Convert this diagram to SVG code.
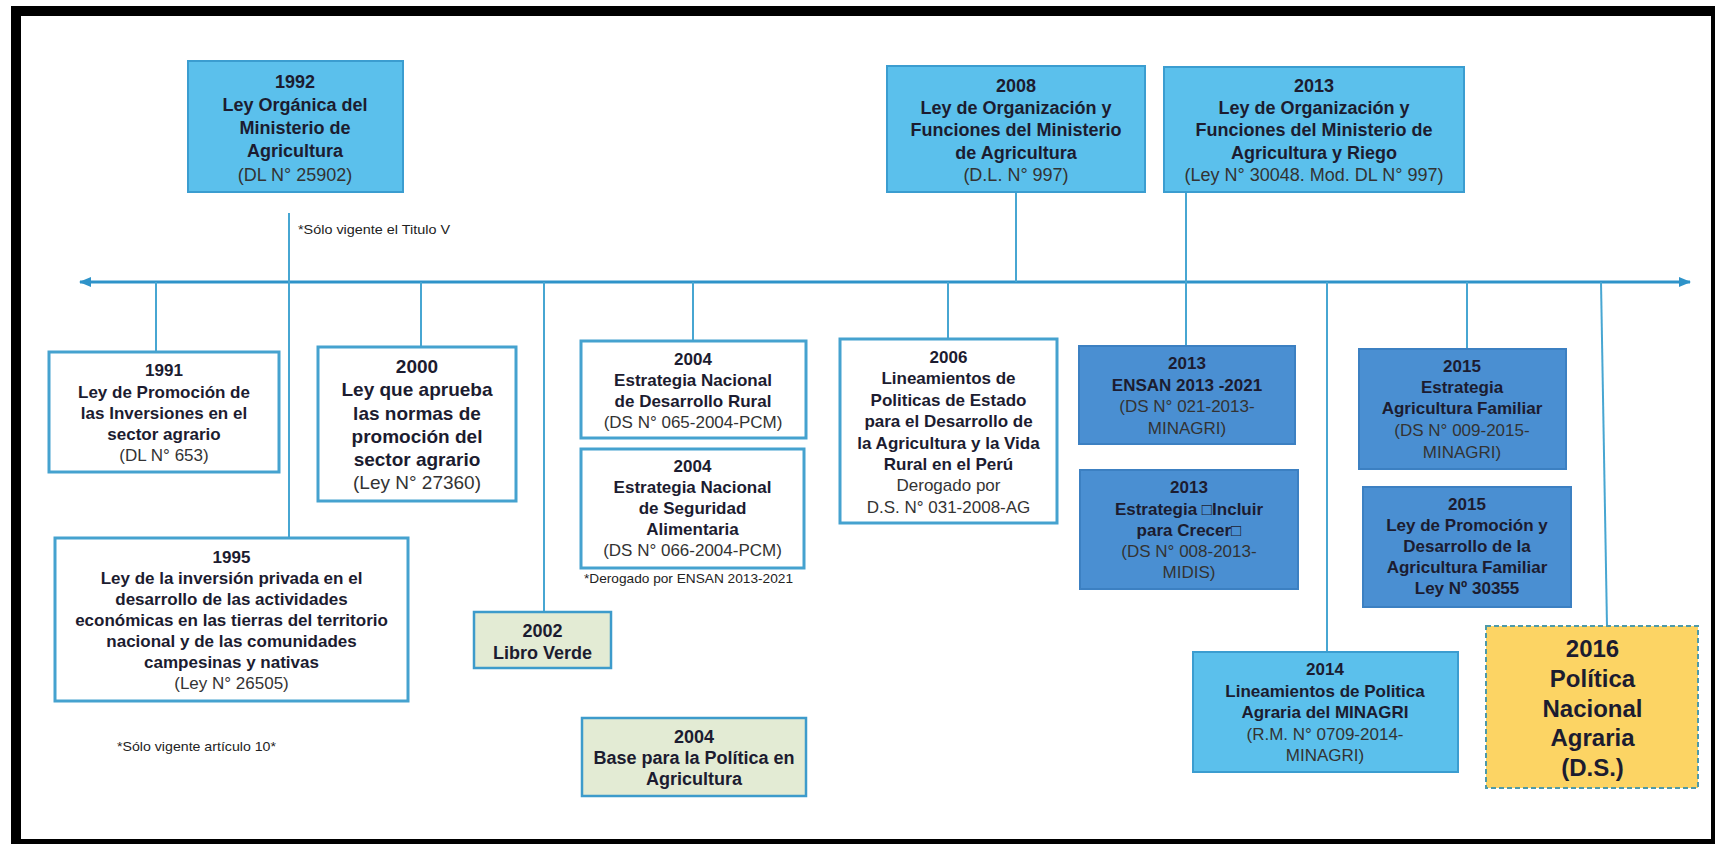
<svg xmlns="http://www.w3.org/2000/svg" width="1715" height="844" viewBox="0 0 1715 844">
<defs>
<style>
.b{font-family:'Liberation Sans',Arial,sans-serif;font-weight:bold;fill:#1c1c30;text-anchor:middle}
.n{font-family:'Liberation Sans',Arial,sans-serif;fill:#333;text-anchor:middle}
.note{font-family:'Liberation Sans',Arial,sans-serif;font-size:13.5px;fill:#222}
.lb{fill:#5BC0EC;stroke:#3B9DD0;stroke-width:2}
.db{fill:#4A8FD2;stroke:#3C80C2;stroke-width:2}
.wb{fill:#fff;stroke:#45A2CF;stroke-width:3}
.gb{fill:#E3EBD4;stroke:#3D9BCB;stroke-width:2.5}
.yb{fill:#FCD464;stroke:#4E9AA8;stroke-width:2;stroke-dasharray:5 3}
.c{stroke:#47A6D2;stroke-width:2;fill:none}
.f17{font-size:17px}.f18{font-size:18px}.f19{font-size:19px}.f24{font-size:24px}
</style>
<marker id="ah" viewBox="0 0 12 10" refX="11" refY="5" markerWidth="12" markerHeight="10" markerUnits="userSpaceOnUse" orient="auto-start-reverse">
<path d="M0,0 L12,5 L0,10 Z" fill="#2E93C9"/>
</marker>
</defs>
<rect x="0" y="0" width="1715" height="844" fill="#fff"/>
<rect x="11" y="6" width="1704" height="838" fill="#000"/>
<rect x="21" y="16" width="1690" height="823" fill="#fff"/>

<g id="connectors">
<line x1="80" y1="282" x2="1690" y2="282" stroke="#2E93C9" stroke-width="3" marker-start="url(#ah)" marker-end="url(#ah)"/>
<line class="c" x1="156" y1="282" x2="156" y2="352"/>
<line class="c" x1="289" y1="213" x2="289" y2="538"/>
<line class="c" x1="421" y1="282" x2="421" y2="347"/>
<line class="c" x1="544" y1="282" x2="544" y2="612"/>
<line class="c" x1="693" y1="282" x2="693" y2="341"/>
<line class="c" x1="948" y1="282" x2="948" y2="339"/>
<line class="c" x1="1016" y1="192" x2="1016" y2="282"/>
<line class="c" x1="1186" y1="192" x2="1186" y2="346"/>
<line class="c" x1="1327" y1="282" x2="1327" y2="652"/>
<line class="c" x1="1467" y1="282" x2="1467" y2="349"/>
<line class="c" x1="1601" y1="282" x2="1607" y2="626"/>
</g>

<g id="n1992">
<rect class="lb" x="188" y="61" width="215" height="131"/>
<text class="b f18" x="295" y="87.5">1992</text>
<text class="b f18" x="295" y="110.5">Ley Orgánica del</text>
<text class="b f18" x="295" y="133.5">Ministerio de</text>
<text class="b f18" x="295" y="156.5">Agricultura</text>
<text class="n f18" x="295" y="180.5">(DL N° 25902)</text>
</g>
<g id="n2008">
<rect class="lb" x="887" y="66" width="258" height="126"/>
<text class="b f18" x="1016" y="91.5">2008</text>
<text class="b f18" x="1016" y="113.5">Ley de Organización y</text>
<text class="b f18" x="1016" y="135.5">Funciones del Ministerio</text>
<text class="b f18" x="1016" y="158.5">de Agricultura</text>
<text class="n f18" x="1016" y="180.5">(D.L. N° 997)</text>
</g>
<g id="n2013a">
<rect class="lb" x="1164" y="67" width="300" height="125"/>
<text class="b f18" x="1314" y="91.5">2013</text>
<text class="b f18" x="1314" y="113.5">Ley de Organización y</text>
<text class="b f18" x="1314" y="135.5">Funciones del Ministerio de</text>
<text class="b f18" x="1314" y="158.5">Agricultura y Riego</text>
<text class="n f18" x="1314" y="180.5">(Ley N° 30048. Mod. DL N° 997)</text>
</g>
<g id="note1">
<text class="note" x="298" y="234" textLength="152" lengthAdjust="spacingAndGlyphs">*Sólo vigente el Titulo V</text>
</g>

<g id="n1991">
<rect class="wb" x="49" y="352" width="230" height="120"/>
<text class="b f17" x="164" y="376">1991</text>
<text class="b f17" x="164" y="398">Ley de Promoción de</text>
<text class="b f17" x="164" y="419">las Inversiones en el</text>
<text class="b f17" x="164" y="440">sector agrario</text>
<text class="n f17" x="164" y="461">(DL N° 653)</text>
</g>
<g id="n2000">
<rect class="wb" x="318" y="347" width="198" height="154"/>
<text class="b f19" x="417" y="373">2000</text>
<text class="b f19" x="417" y="396">Ley que aprueba</text>
<text class="b f19" x="417" y="420">las normas de</text>
<text class="b f19" x="417" y="443">promoción del</text>
<text class="b f19" x="417" y="466">sector agrario</text>
<text class="n f19" x="417" y="489">(Ley N° 27360)</text>
</g>
<g id="n1995">
<rect class="wb" x="55" y="538" width="353" height="163"/>
<text class="b f17" x="231.5" y="563">1995</text>
<text class="b f17" x="231.5" y="584">Ley de la inversión privada en el</text>
<text class="b f17" x="231.5" y="605">desarrollo de las actividades</text>
<text class="b f17" x="231.5" y="626">económicas en las tierras del territorio</text>
<text class="b f17" x="231.5" y="647">nacional y de las comunidades</text>
<text class="b f17" x="231.5" y="668">campesinas y nativas</text>
<text class="n f17" x="231.5" y="689">(Ley N° 26505)</text>
</g>
<g id="note2">
<text class="note" x="117" y="751" textLength="159" lengthAdjust="spacingAndGlyphs">*Sólo vigente artículo 10*</text>
</g>
<g id="n2002">
<rect class="gb" x="474" y="612" width="137" height="56"/>
<text class="b f18" x="542.5" y="636.5">2002</text>
<text class="b f18" x="542.5" y="658.5">Libro Verde</text>
</g>
<g id="n2004a">
<rect class="wb" x="581" y="341" width="225" height="97"/>
<text class="b f17" x="693" y="365">2004</text>
<text class="b f17" x="693" y="386">Estrategia Nacional</text>
<text class="b f17" x="693" y="407">de Desarrollo Rural</text>
<text class="n f17" x="693" y="428">(DS N° 065-2004-PCM)</text>
</g>
<g id="n2004b">
<rect class="wb" x="581" y="449" width="223" height="119"/>
<text class="b f17" x="692.5" y="472">2004</text>
<text class="b f17" x="692.5" y="493">Estrategia Nacional</text>
<text class="b f17" x="692.5" y="514">de Seguridad</text>
<text class="b f17" x="692.5" y="535">Alimentaria</text>
<text class="n f17" x="692.5" y="556">(DS N° 066-2004-PCM)</text>
</g>
<g id="note3">
<text class="note" x="584" y="583" textLength="209" lengthAdjust="spacingAndGlyphs">*Derogado por ENSAN 2013-2021</text>
</g>
<g id="n2004c">
<rect class="gb" x="582" y="718" width="224" height="78"/>
<text class="b f18" x="694" y="742.5">2004</text>
<text class="b f18" x="694" y="763.5">Base para la Política en</text>
<text class="b f18" x="694" y="784.5">Agricultura</text>
</g>
<g id="n2006">
<rect class="wb" x="840" y="339" width="217" height="184"/>
<text class="b f17" x="948.5" y="363">2006</text>
<text class="b f17" x="948.5" y="384.4">Lineamientos de</text>
<text class="b f17" x="948.5" y="405.8">Politicas de Estado</text>
<text class="b f17" x="948.5" y="427.2">para el Desarrollo de</text>
<text class="b f17" x="948.5" y="448.6">la Agricultura y la Vida</text>
<text class="b f17" x="948.5" y="470">Rural en el Perú</text>
<text class="n f17" x="948.5" y="491.4">Derogado por</text>
<text class="n f17" x="948.5" y="512.8">D.S. N° 031-2008-AG</text>
</g>
<g id="n2013b">
<rect class="db" x="1079" y="346" width="216" height="98"/>
<text class="b f17" x="1187" y="369">2013</text>
<text class="b f17" x="1187" y="390.5">ENSAN 2013 -2021</text>
<text class="n f17" x="1187" y="412">(DS N° 021-2013-</text>
<text class="n f17" x="1187" y="433.5">MINAGRI)</text>
</g>
<g id="n2013c">
<rect class="db" x="1080" y="470" width="218" height="119"/>
<text class="b f17" x="1189" y="493">2013</text>
<text class="b f17" x="1189" y="514.5">Estrategia □Incluir</text>
<text class="b f17" x="1189" y="536">para Crecer□</text>
<text class="n f17" x="1189" y="557">(DS N° 008-2013-</text>
<text class="n f17" x="1189" y="578">MIDIS)</text>
</g>
<g id="n2014">
<rect class="lb" x="1193" y="652" width="265" height="120"/>
<text class="b f17" x="1325" y="675">2014</text>
<text class="b f17" x="1325" y="696.5">Lineamientos de Politica</text>
<text class="b f17" x="1325" y="718">Agraria del MINAGRI</text>
<text class="n f17" x="1325" y="739.5">(R.M. N° 0709-2014-</text>
<text class="n f17" x="1325" y="761">MINAGRI)</text>
</g>
<g id="n2015a">
<rect class="db" x="1359" y="349" width="207" height="120"/>
<text class="b f17" x="1462" y="372">2015</text>
<text class="b f17" x="1462" y="393">Estrategia</text>
<text class="b f17" x="1462" y="414">Agricultura Familiar</text>
<text class="n f17" x="1462" y="436">(DS N° 009-2015-</text>
<text class="n f17" x="1462" y="458">MINAGRI)</text>
</g>
<g id="n2015b">
<rect class="db" x="1363" y="487" width="208" height="120"/>
<text class="b f17" x="1467" y="510">2015</text>
<text class="b f17" x="1467" y="531">Ley de Promoción y</text>
<text class="b f17" x="1467" y="552">Desarrollo de la</text>
<text class="b f17" x="1467" y="573">Agricultura Familiar</text>
<text class="b f17" x="1467" y="594">Ley Nº 30355</text>
</g>
<g id="n2016">
<rect class="yb" x="1486" y="626" width="212" height="162"/>
<text class="b f24" x="1592.5" y="656.6">2016</text>
<text class="b f24" x="1592.5" y="686.6">Política</text>
<text class="b f24" x="1592.5" y="716.6">Nacional</text>
<text class="b f24" x="1592.5" y="745.6">Agraria</text>
<text class="b f24" x="1592.5" y="775.6">(D.S.)</text>
</g>
</svg>
